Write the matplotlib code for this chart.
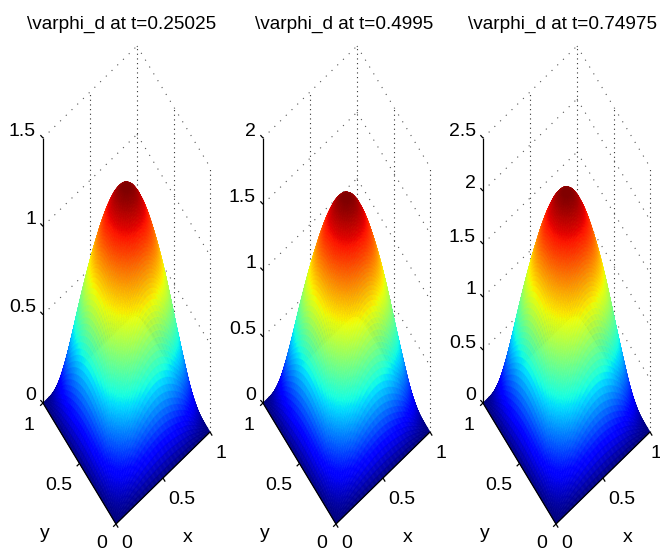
import numpy as np
import matplotlib
matplotlib.use('Agg')
import matplotlib.pyplot as plt
from mpl_toolkits.mplot3d import Axes3D
from mpl_toolkits.mplot3d.art3d import Line3DCollection

plt.rcParams['font.family'] = ['Liberation Sans', 'DejaVu Sans']

# values
titles = ['\\varphi_d at t=0.25025', '\\varphi_d at t=0.4995', '\\varphi_d at t=0.74975']
peaks = [1.30, 1.655, 2.12]
z_ticks = [[0, 0.5, 1, 1.5], [0, 0.5, 1, 1.5, 2], [0, 0.5, 1, 1.5, 2, 2.5]]
z_labels = [['0', '0.5', '1', '1.5'], ['0', '0.5', '1', '1.5', '2'], ['0', '0.5', '1', '1.5', '2', '2.5']]
xy_ticks = [0, 0.5, 1]
xy_labels = ['0', '0.5', '1']

# height along one side of the square up to the middle, as a share of the peak
half_profile = np.array([0, .027, .053, .080, .108, .135, .160, .187, .215, .242,
                         .271, .300, .329, .357, .384, .411, .438, .465, .490, .515,
                         .540, .565, .590, .612, .635, .657, .677, .696, .714, .731,
                         .747, .763, .778, .793, .808, .822, .836, .849, .861, .873,
                         .885, .896, .905, .914, .925, .935, .942, .950, .957, .964,
                         .971, .976, .981, .985, .990, .993, .996, .998, .999, 1, 1])
profile = np.r_[half_profile, half_profile[-2::-1]]
grid = np.linspace(0, 1, len(profile))

title_x = [121.5, 344, 562]

fig = plt.figure(figsize=(6.6, 5.5), dpi=100)


def make_proj(left, z_top):
    # the original is stretched to fill its box, so no view_init angle fits it
    return np.array([[94, -73, 0, left + 73],
                     [-92, -121, -265 / z_top, 524],
                     [1, 1, -0.5 / z_top, 0],
                     [0, 0, 0, 1]], dtype=float)


for i in range(3):
    left = 43 + 220 * i
    z_top = z_ticks[i][-1]
    M = make_proj(left, z_top)

    ax = fig.add_axes([0, 0, 1, 1], projection='3d', computed_zorder=False)
    ax.apply_aspect = lambda position=None: None
    ax.get_proj = lambda M=M: M
    ax._viewLim.intervalx = (0, 660)
    ax._viewLim.intervaly = (550, 0)
    ax.set_axis_off()
    ax.patch.set_visible(False)

    def pos(x, y, z):
        return M[:3, :3] @ np.array([x, y, z]) + M[:3, 3]

    def label(x, y, z, dx, dy, s, ha='center'):
        p = pos(x, y, z)
        ax.text2D(p[0] + dx, p[1] + dy, s, transform=ax.transData, fontsize=14,
                  ha=ha, va='center', color='black')

    # dotted grid on the two back walls
    slanted = []
    for z in z_ticks[i]:
        slanted.append([(0, 1, z), (1, 1, z)])
        slanted.append([(1, 1, z), (1, 0, z)])
    upright = []
    for x, y in [(0.5, 1), (1, 1), (1, 0.5), (1, 0)]:
        upright.append([(x, y, 0), (x, y, z_top)])
    ax.add_collection3d(Line3DCollection(slanted, colors='#555555', linewidths=0.8,
                                         linestyles=[(0, (1, 6.2))], zorder=1))
    ax.add_collection3d(Line3DCollection(upright, colors='#333333', linewidths=0.8,
                                         linestyles=[(0, (1, 3.2))], zorder=1))

    X, Y = np.meshgrid(grid, grid)
    Z = peaks[i] * np.outer(profile, profile)
    surf = ax.plot_surface(X, Y, Z, cmap='jet', vmin=0, vmax=peaks[i], rstride=1, cstride=1,
                           linewidth=0, zorder=2, shade=False)
    surf.set_edgecolor('face')
    surf.set_linewidth(0.4)

    # axis lines and tick marks
    solid = [[(0, 1, 0), (0, 1, z_top)], [(0, 0, 0), (1, 0, 0)], [(0, 0, 0), (0, 1, 0)]]
    for z, s in zip(z_ticks[i], z_labels[i]):
        solid.append([(0, 1, z), (-0.02, 1.01, z + 0.02 * z_top / 1.5)])
        label(0, 1, z, -7, -7, s, ha='right')
    for v, s in zip(xy_ticks, xy_labels):
        solid.append([(v, 0, 0), (v, -0.03, 0)])
        solid.append([(0, v, 0), (-0.03, v, 0)])
        x_dx = 19 if v == 0.5 else 11
        if v == 1 and i == 2:
            x_dx = 6  # last label sits at the right edge
        label(v, 0, 0, x_dx, 19 if v == 0 else 22, s)
        label(0, v, 0, -14 if v != 0.5 else -21, 19 if v == 0 else 22, s)
    ax.add_collection3d(Line3DCollection(solid, colors='black', linewidths=0.9, zorder=3))

    fig.text((left + 2) / 660, 1 - 533 / 550, 'y', fontsize=14, ha='center', va='center')
    fig.text((left + 145) / 660, 1 - 538 / 550, 'x', fontsize=14, ha='center', va='center')
    fig.text(title_x[i] / 660, 1 - 24 / 550, titles[i], fontsize=13.7, ha='center', va='center')

fig.savefig('out.png', dpi=100)
